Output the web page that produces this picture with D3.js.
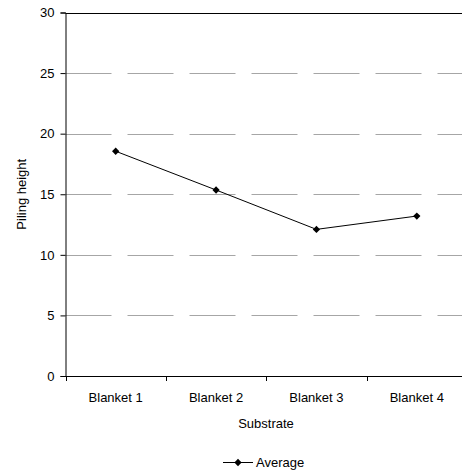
<!DOCTYPE html>
<html>
<head>
<meta charset="utf-8">
<script src="https://cdn.jsdelivr.net/npm/d3@7"></script>
<style>
  html, body { margin: 0; padding: 0; background: #fff; }
  svg { display: block; font-family: "Liberation Sans", Arial, sans-serif; }
</style>
</head>
<body>
<svg id="chart" width="462" height="472"></svg>
<script>
// Piling height by substrate
const categories = ["Blanket 1", "Blanket 2", "Blanket 3", "Blanket 4"];
const averageValues = [18.55, 15.35, 12.1, 13.2];
const yTicks = [0, 5, 10, 15, 20, 25, 30];
const seriesName = "Average";

const svg = d3.select("#chart");
const plotLeft = 65.5, plotTop = 12.5, plotBottom = 376, plotRight = 467;

const x = d3.scaleBand().domain(categories).range([plotLeft, plotRight]);
const y = d3.scaleLinear().domain([0, 30]).range([plotBottom, plotTop]);

// horizontal dashed gridlines
svg.append("g")
  .selectAll("line")
  .data(yTicks.filter(t => t > 0 && t < 30))
  .join("line")
  .attr("x1", plotLeft).attr("x2", 462)
  .attr("y1", d => Math.round(y(d)) + 0.5).attr("y2", d => Math.round(y(d)) + 0.5)
  .attr("stroke", "#a6a6a6")
  .attr("stroke-width", 1)
  .attr("stroke-dasharray", "46,16");

// top border of plot area
svg.append("line")
  .attr("x1", plotLeft).attr("x2", 462)
  .attr("y1", Math.round(y(30)) + 0.5).attr("y2", Math.round(y(30)) + 0.5)
  .attr("stroke", "#000").attr("stroke-width", 1);

// y axis
const yAxis = d3.axisLeft(y).tickValues(yTicks).tickSize(5).tickPadding(6).tickFormat(d3.format("d"));
const gy = svg.append("g").attr("transform", `translate(${plotLeft},0)`).call(yAxis);
gy.select(".domain").attr("stroke", "#000");
gy.selectAll(".tick line").attr("stroke", "#000");
gy.selectAll("text").attr("font-size", 13).attr("fill", "#000")
  .attr("font-family", "Liberation Sans, Arial, sans-serif");

// x axis with ticks at category boundaries
const gx = svg.append("g").attr("transform", `translate(0,${plotBottom})`);
gx.append("line").attr("x1", plotLeft).attr("x2", 462).attr("y1", 0.5).attr("y2", 0.5).attr("stroke", "#000");
gx.selectAll("line.tk")
  .data(categories)
  .join("line").attr("class", "tk")
  .attr("x1", d => Math.round(x(d)) + 0.5).attr("x2", d => Math.round(x(d)) + 0.5)
  .attr("y1", 0).attr("y2", 5)
  .attr("stroke", "#000");
gx.selectAll("text")
  .data(categories)
  .join("text")
  .attr("x", d => x(d) + x.bandwidth() / 2)
  .attr("y", 26)
  .attr("text-anchor", "middle")
  .attr("font-size", 13)
  .text(d => d);

// axis titles
svg.append("text")
  .attr("x", 266).attr("y", 428)
  .attr("text-anchor", "middle").attr("font-size", 13)
  .text("Substrate");
svg.append("text")
  .attr("transform", `translate(26,${(plotTop + plotBottom) / 2}) rotate(-90)`)
  .attr("text-anchor", "middle").attr("font-size", 13)
  .text("Piling height");

// series line and diamond markers
const cx = d => x(d) + x.bandwidth() / 2;
const line = d3.line().x(d => cx(d.c)).y(d => y(d.v));
const pts = categories.map((c, i) => ({ c, v: averageValues[i] }));
svg.append("path")
  .datum(pts)
  .attr("d", line)
  .attr("fill", "none")
  .attr("stroke", "#000")
  .attr("stroke-width", 1);

const diamond = d3.symbol().type(d3.symbolDiamond2).size(34);
svg.append("g")
  .selectAll("path")
  .data(pts)
  .join("path")
  .attr("transform", d => `translate(${cx(d.c)},${y(d.v)})`)
  .attr("d", diamond)
  .attr("fill", "#000");

// legend
const lg = svg.append("g").attr("transform", "translate(223,462)");
lg.append("line").attr("x1", 0).attr("x2", 30).attr("y1", 0.5).attr("y2", 0.5).attr("stroke", "#000");
lg.append("path").attr("transform", "translate(15,0.5)").attr("d", diamond).attr("fill", "#000");
lg.append("text").attr("x", 33).attr("y", 5).attr("font-size", 13).text(seriesName);
</script>
</body>
</html>
